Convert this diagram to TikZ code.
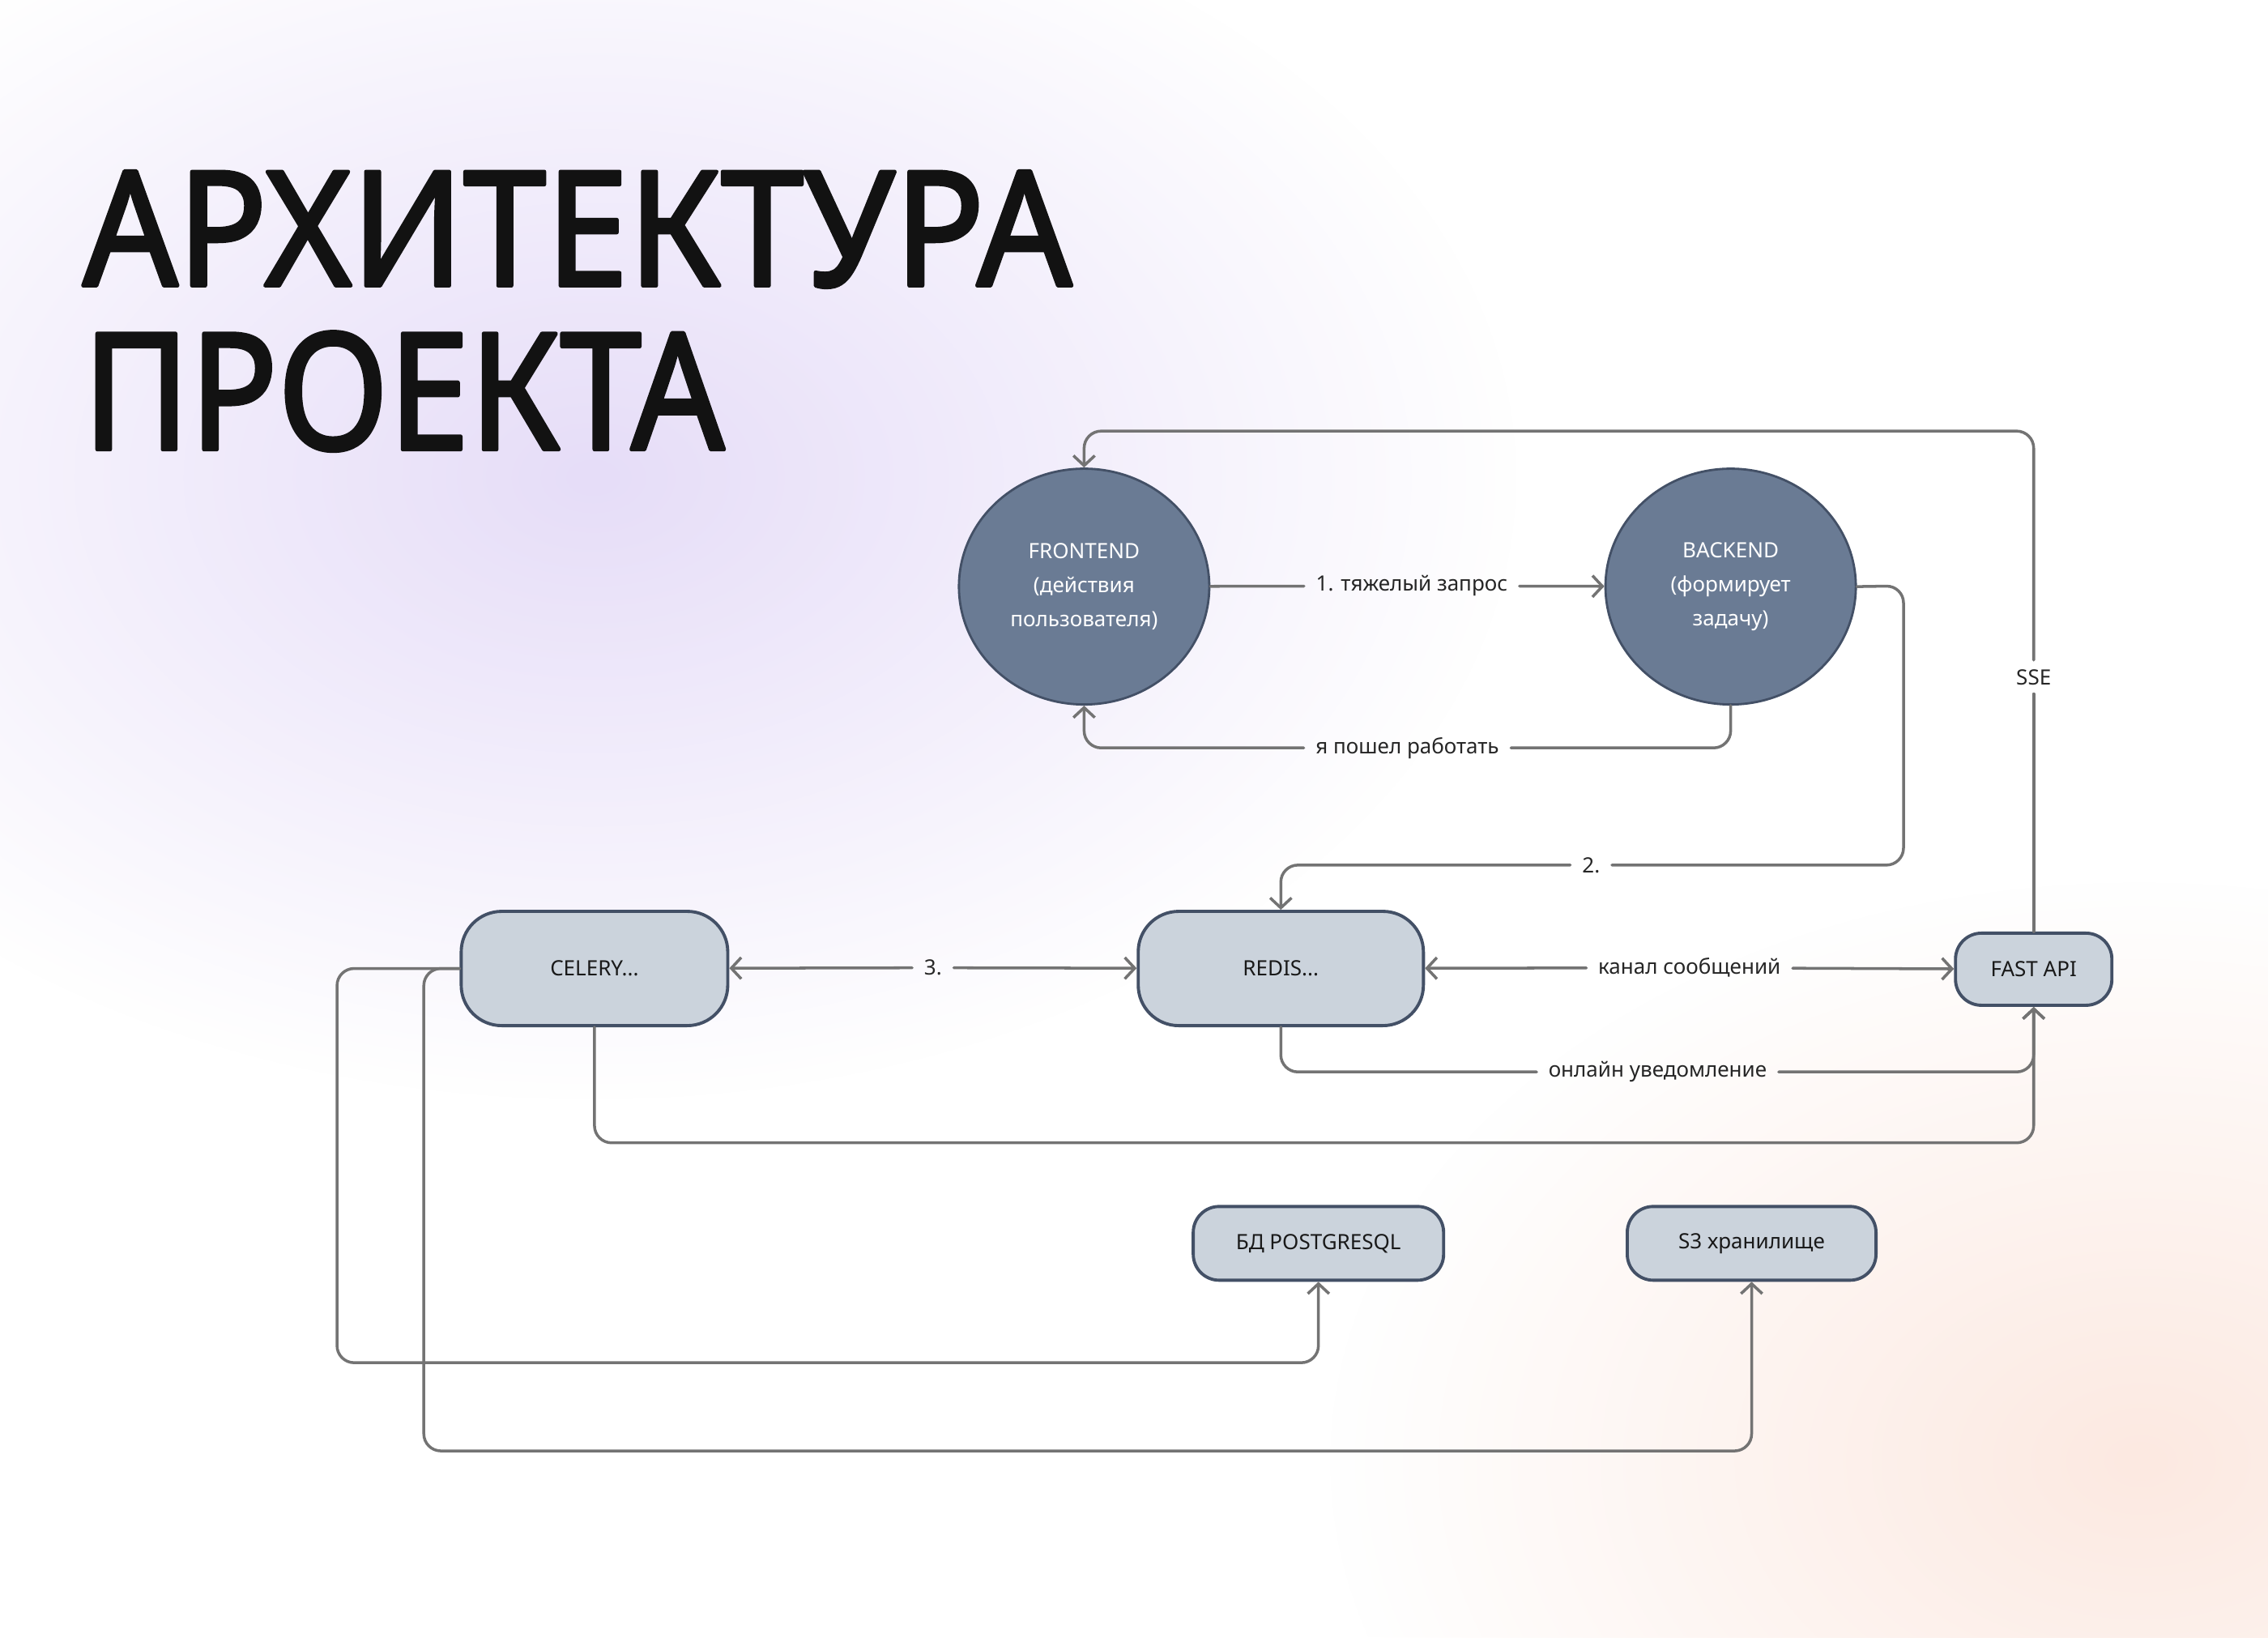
\documentclass[tikz,border=0pt]{standalone}
\usepackage{fontspec}
\setmainfont{Noto Sans}
\newfontfamily\titlefont[FakeBold=2.5]{Noto Sans}
\usepackage{graphicx}
\usetikzlibrary{arrows.meta,shapes.geometric,fadings}
\definecolor{nodeblue}{HTML}{6A7B94}
\definecolor{nodeedge}{HTML}{435066}
\definecolor{boxfill}{HTML}{CBD3DC}
\definecolor{linegray}{HTML}{737373}
\definecolor{lavender}{HTML}{E6DDF8}
\definecolor{peach}{HTML}{FCE9E1}
\tikzfading[name=glowfade,inner color=transparent!0,outer color=transparent!100]

\tikzset{
  service/.style={ellipse,draw=nodeedge,line width=0.8pt,fill=nodeblue,text=white,
    minimum width=3.09cm,minimum height=2.91cm,align=center,
    font=\fontsize{7.4}{11.9}\selectfont},
  store/.style={rectangle,draw=nodeedge,line width=1.1pt,fill=boxfill,text=black!90,
    inner sep=0pt,font=\fontsize{7.4}{9}\selectfont},
  conn/.style={draw=linegray,line width=1pt,rounded corners=6pt},
  lbl/.style={inner xsep=4pt,inner ysep=3pt,text=black!85,font=\fontsize{7.4}{9}\selectfont},
}

\begin{document}
\begin{tikzpicture}[line cap=round,line join=round,>={Straight Barb[length=3.5pt,width=7.5pt]},x=0.017857cm,y=-0.017857cm]
\useasboundingbox (0,0) rectangle (1568,1132);
\fill[white] (0,0) rectangle (1568,1132);
\fill[lavender,path fading=glowfade] (410,330) ellipse (640 and 430);
\fill[peach,path fading=glowfade] (1480,1010) ellipse (560 and 400);

% title
\node[anchor=north west,inner sep=0pt,text=black!93] (title) at (57,118) {\resizebox{12.2cm}{1.41cm}{\titlefont АРХИТЕКТУРА}};
\node[anchor=north west,inner sep=0pt,text=black!93] (subtitle) at (57,229) {\resizebox{7.91cm}{1.45cm}{\titlefont ПРОЕКТА}};

% services
\node[service] (fe) at (749.5,405.5) {FRONTEND\\(действия\\пользователя)};
\node[service] (be) at (1196.5,405.5) {BACKEND\\(формирует\\задачу)};

\node[store,minimum width=3.29cm,minimum height=1.41cm,rounded corners=0.5cm] (celery) at (411,669.5) {CELERY...};
\node[store,minimum width=3.52cm,minimum height=1.41cm,rounded corners=0.5cm] (redis) at (885.5,669.5) {REDIS...};
\node[store,minimum width=1.93cm,minimum height=0.89cm,rounded corners=0.32cm] (fa) at (1406,670) {FAST API};
\node[store,minimum width=3.09cm,minimum height=0.91cm,rounded corners=0.32cm] (pg) at (911.5,859.5) {БД POSTGRESQL};
\node[store,minimum width=3.07cm,minimum height=0.91cm,rounded corners=0.32cm] (s3) at (1211,859.5) {S3 хранилище};

% labels on connectors
\node[lbl] (l1) at (976,405) {1. тяжелый запрос};
\node[lbl] (lret) at (973,517) {я пошел работать};
\node[lbl] (lsse) at (1406,468) {SSE};
\node[lbl] (l2) at (1100,598) {2.};
\node[lbl] (l3) at (645,669) {3.};
\node[lbl] (lchan) at (1168,669) {канал сообщений};
\node[lbl] (lnot) at (1146,741) {онлайн уведомление};

% connectors
\draw[conn] (fe) -- (l1);
\draw[conn,->] (l1) -- (be);
\draw[conn] (be.south) |- (lret);
\draw[conn,->] (lret) -| (fe.south);
\draw[conn] (fa.north) -- (lsse);
\draw[conn,->] (lsse) -- (lsse |- 0,298) -| (fe.north);
\draw[conn] (be.east) -- (1316,405) |- (l2);
\draw[conn,->] (l2) -| (redis.north);
\draw[conn,<-] (celery) -- (l3);
\draw[conn,->] (l3) -- (redis);
\draw[conn,<-] (redis) -- (lchan);
\draw[conn,->] (lchan) -- (fa);
\draw[conn] (redis.south) |- (lnot);
\draw[conn,->] (lnot) -| (fa.south);
\draw[conn,->] (celery.south) -- (411,790) -| (fa.south);
\draw[conn,->] (celery.west) -| (233,942) -| (pg.south);
\draw[conn,->] (celery.west) -| (293,1003) -| (s3.south);
\end{tikzpicture}
\end{document}
